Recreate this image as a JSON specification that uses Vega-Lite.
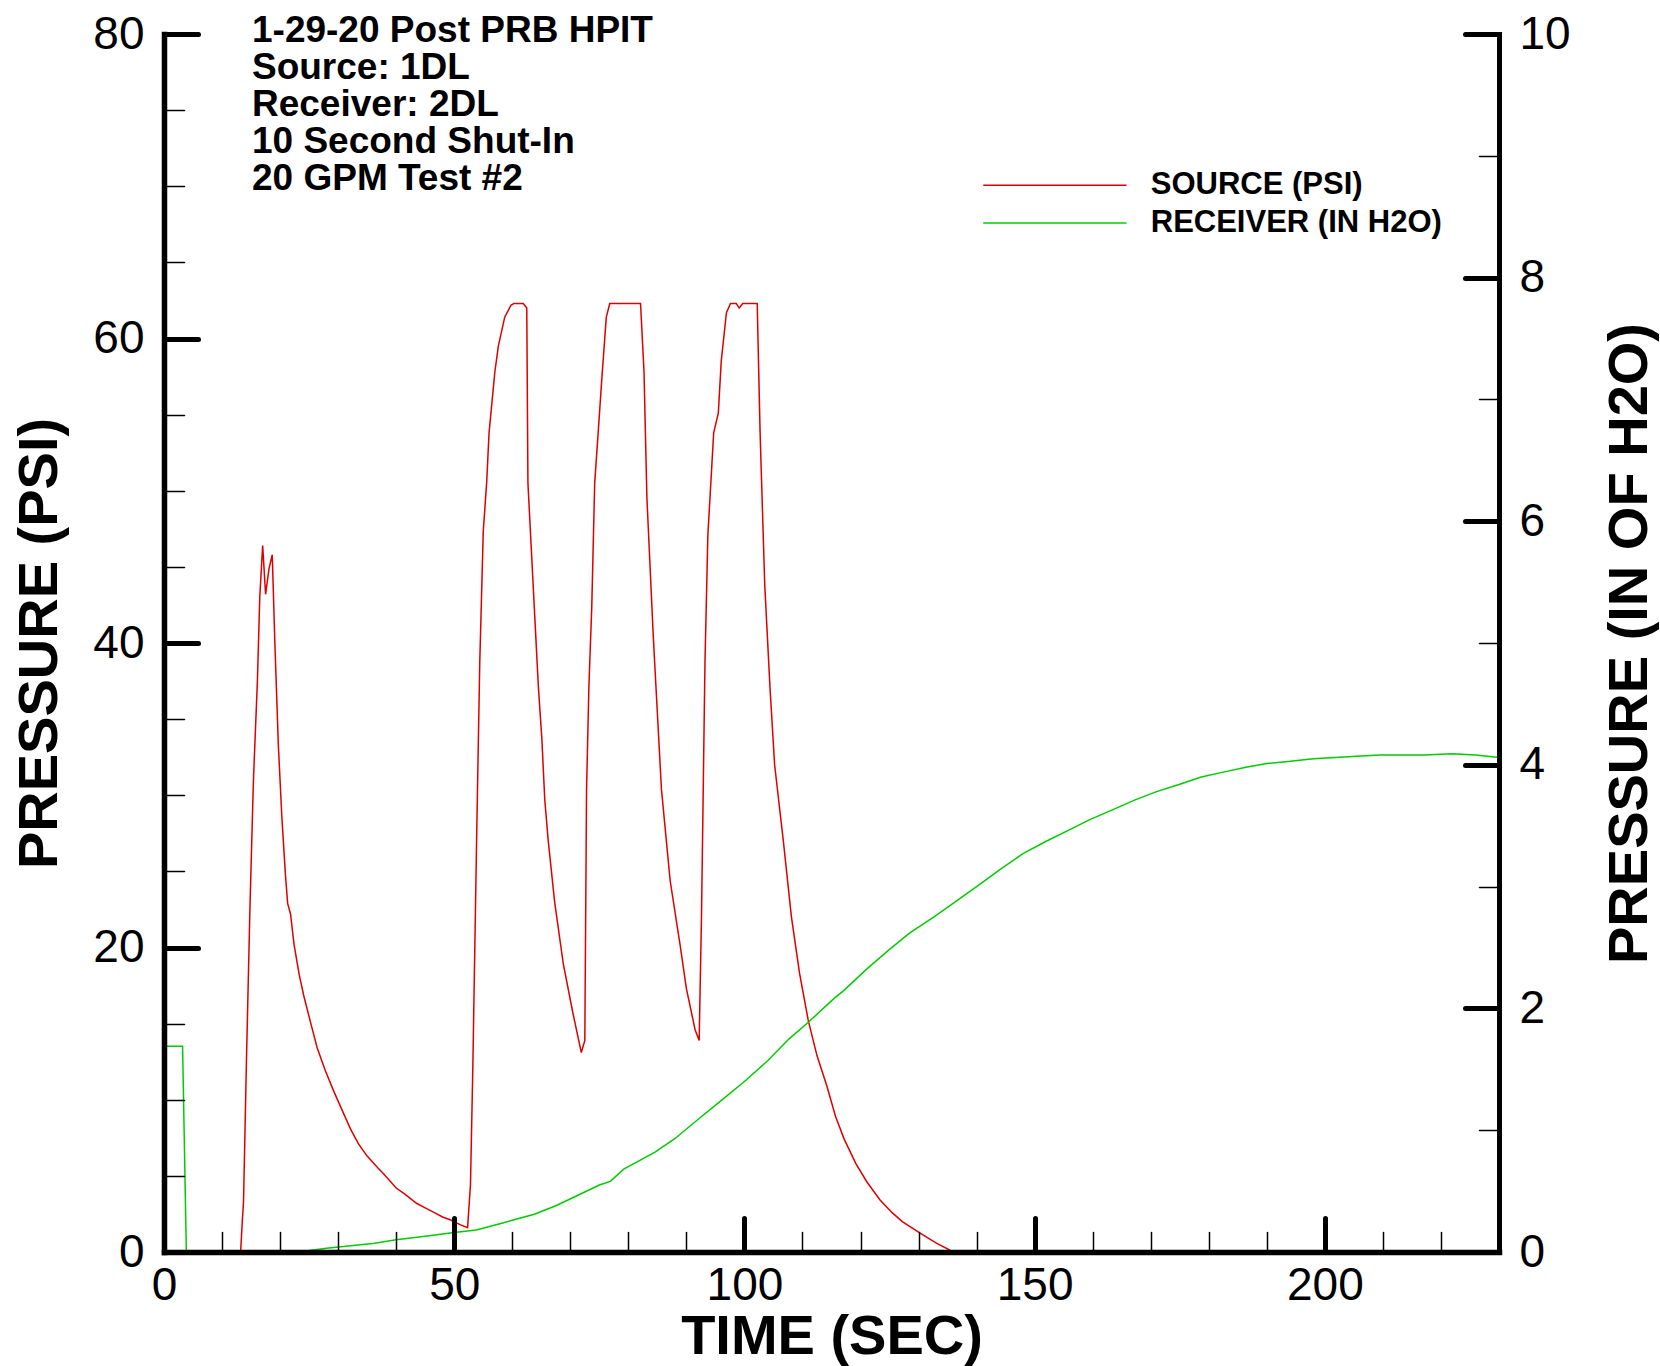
{
  "$schema": "https://vega.github.io/schema/vega-lite/v6.json",
  "width": 1335,
  "height": 1218,
  "autosize": {"type": "none"},
  "padding": {"left": 164, "top": 34, "right": 161, "bottom": 114},
  "config": {"view": {"stroke": null}, "font": "Liberation Sans"},
  "datasets": {
    "source": [
      {"t": 0, "psi": 0}, {"t": 13.2, "psi": 0}, {"t": 13.5, "psi": 2.1}, {"t": 13.7, "psi": 3.3},
      {"t": 14.2, "psi": 12.5}, {"t": 14.8, "psi": 22.5}, {"t": 15.4, "psi": 30.9}, {"t": 16.1, "psi": 37.6},
      {"t": 16.5, "psi": 43.0}, {"t": 17.0, "psi": 46.4}, {"t": 17.5, "psi": 43.2}, {"t": 18.1, "psi": 44.9},
      {"t": 18.65, "psi": 45.8}, {"t": 19.1, "psi": 40.0}, {"t": 19.7, "psi": 33.3}, {"t": 20.3, "psi": 28.6},
      {"t": 20.9, "psi": 24.9}, {"t": 21.3, "psi": 22.9}, {"t": 21.8, "psi": 22.2}, {"t": 22.4, "psi": 20.2},
      {"t": 23.3, "psi": 18.2}, {"t": 24.1, "psi": 16.8}, {"t": 25.3, "psi": 15.0}, {"t": 26.4, "psi": 13.4},
      {"t": 27.8, "psi": 11.9}, {"t": 29.2, "psi": 10.6}, {"t": 30.7, "psi": 9.3}, {"t": 32.1, "psi": 8.1},
      {"t": 33.5, "psi": 7.1}, {"t": 35.0, "psi": 6.3}, {"t": 36.9, "psi": 5.5}, {"t": 37.9, "psi": 5.1},
      {"t": 40.0, "psi": 4.2}, {"t": 41.5, "psi": 3.8}, {"t": 43.5, "psi": 3.2}, {"t": 45.0, "psi": 2.9},
      {"t": 46.5, "psi": 2.6}, {"t": 48.0, "psi": 2.3}, {"t": 49.4, "psi": 2.1}, {"t": 51.0, "psi": 1.8},
      {"t": 52.3, "psi": 1.6}, {"t": 52.8, "psi": 4.4}, {"t": 53.2, "psi": 12.0}, {"t": 53.9, "psi": 28.0},
      {"t": 54.4, "psi": 38.7}, {"t": 55.0, "psi": 47.3}, {"t": 55.6, "psi": 50.6}, {"t": 56.0, "psi": 53.8},
      {"t": 57.0, "psi": 57.8}, {"t": 57.6, "psi": 59.5}, {"t": 58.7, "psi": 61.4}, {"t": 59.8, "psi": 62.2},
      {"t": 60.3, "psi": 62.3}, {"t": 61.9, "psi": 62.3}, {"t": 62.5, "psi": 62.0}, {"t": 62.7, "psi": 50.5},
      {"t": 63.6, "psi": 43.8}, {"t": 64.5, "psi": 37.1}, {"t": 65.1, "psi": 33.7}, {"t": 65.6, "psi": 29.7},
      {"t": 66.2, "psi": 27.0}, {"t": 67.3, "psi": 23.0}, {"t": 68.8, "psi": 18.9}, {"t": 70.5, "psi": 15.6},
      {"t": 71.9, "psi": 13.1}, {"t": 72.5, "psi": 13.9}, {"t": 72.8, "psi": 30.4}, {"t": 73.2, "psi": 37.1},
      {"t": 73.7, "psi": 42.4}, {"t": 74.2, "psi": 50.5}, {"t": 74.8, "psi": 53.8}, {"t": 75.4, "psi": 57.2},
      {"t": 76.2, "psi": 61.4}, {"t": 76.8, "psi": 62.3}, {"t": 82.1, "psi": 62.3}, {"t": 82.7, "psi": 57.8},
      {"t": 83.2, "psi": 49.5}, {"t": 84.3, "psi": 40.4}, {"t": 85.7, "psi": 30.4}, {"t": 87.2, "psi": 24.4},
      {"t": 88.9, "psi": 20.2}, {"t": 90.0, "psi": 17.3}, {"t": 91.5, "psi": 14.6}, {"t": 92.2, "psi": 13.9},
      {"t": 92.6, "psi": 22.0}, {"t": 93.2, "psi": 38.7}, {"t": 93.7, "psi": 47.1}, {"t": 94.3, "psi": 51.1},
      {"t": 94.7, "psi": 53.8}, {"t": 95.5, "psi": 55.1}, {"t": 96.0, "psi": 58.5}, {"t": 96.9, "psi": 61.7},
      {"t": 97.6, "psi": 62.3}, {"t": 98.6, "psi": 62.3}, {"t": 99.1, "psi": 62.0}, {"t": 99.7, "psi": 62.3},
      {"t": 102.2, "psi": 62.3}, {"t": 102.7, "psi": 53.8}, {"t": 103.5, "psi": 43.8}, {"t": 104.4, "psi": 37.1},
      {"t": 105.2, "psi": 32.0}, {"t": 106.7, "psi": 27.0}, {"t": 108.1, "psi": 22.0}, {"t": 109.5, "psi": 18.3},
      {"t": 111.0, "psi": 15.2}, {"t": 112.5, "psi": 12.9}, {"t": 114.2, "psi": 10.9}, {"t": 115.7, "psi": 8.9},
      {"t": 117.2, "psi": 7.4}, {"t": 119.2, "psi": 5.8}, {"t": 121.1, "psi": 4.6}, {"t": 123.4, "psi": 3.4},
      {"t": 125.4, "psi": 2.6}, {"t": 127.2, "psi": 2.0}, {"t": 130.2, "psi": 1.25}, {"t": 133.0, "psi": 0.6},
      {"t": 135.5, "psi": 0.1}, {"t": 136.5, "psi": 0}, {"t": 230, "psi": 0}
    ],
    "receiver": [
      {"t": 0, "h2o": 1.69}, {"t": 3.2, "h2o": 1.69}, {"t": 3.85, "h2o": 0}, {"t": 22.5, "h2o": 0},
      {"t": 25, "h2o": 0.012}, {"t": 28, "h2o": 0.03}, {"t": 33, "h2o": 0.055}, {"t": 36, "h2o": 0.07},
      {"t": 40, "h2o": 0.10}, {"t": 45, "h2o": 0.13}, {"t": 50, "h2o": 0.16}, {"t": 53.8, "h2o": 0.18},
      {"t": 57.7, "h2o": 0.23}, {"t": 60, "h2o": 0.26}, {"t": 63.8, "h2o": 0.31}, {"t": 67.5, "h2o": 0.38},
      {"t": 71.5, "h2o": 0.47}, {"t": 75, "h2o": 0.55}, {"t": 76.9, "h2o": 0.58}, {"t": 79.2, "h2o": 0.68},
      {"t": 84.6, "h2o": 0.82}, {"t": 88, "h2o": 0.93}, {"t": 92.3, "h2o": 1.10}, {"t": 95.4, "h2o": 1.22},
      {"t": 100, "h2o": 1.40}, {"t": 104, "h2o": 1.57}, {"t": 107.7, "h2o": 1.75}, {"t": 111.1, "h2o": 1.89},
      {"t": 115.4, "h2o": 2.08}, {"t": 117.2, "h2o": 2.15}, {"t": 121, "h2o": 2.32}, {"t": 124.9, "h2o": 2.48},
      {"t": 128.5, "h2o": 2.62}, {"t": 132.6, "h2o": 2.75}, {"t": 136.5, "h2o": 2.88}, {"t": 140.3, "h2o": 3.01},
      {"t": 144, "h2o": 3.14}, {"t": 148, "h2o": 3.27}, {"t": 151.9, "h2o": 3.37}, {"t": 155.7, "h2o": 3.46},
      {"t": 159.5, "h2o": 3.55}, {"t": 163.4, "h2o": 3.63}, {"t": 167.2, "h2o": 3.71}, {"t": 171, "h2o": 3.78},
      {"t": 175, "h2o": 3.84}, {"t": 178.7, "h2o": 3.90}, {"t": 182.5, "h2o": 3.94}, {"t": 186.4, "h2o": 3.98},
      {"t": 190, "h2o": 4.01}, {"t": 194.1, "h2o": 4.03}, {"t": 198, "h2o": 4.05}, {"t": 201.8, "h2o": 4.06},
      {"t": 205.5, "h2o": 4.07}, {"t": 209.5, "h2o": 4.08}, {"t": 213, "h2o": 4.08}, {"t": 217.2, "h2o": 4.08},
      {"t": 221.8, "h2o": 4.09}, {"t": 226, "h2o": 4.08}, {"t": 230, "h2o": 4.06}
    ]
  },
  "layer": [
    {
      "layer": [
        {
          "data": {"name": "source"},
          "mark": {"type": "line", "color": "#dd0000", "strokeWidth": 1.5, "clip": false},
          "encoding": {
            "x": {
              "field": "t", "type": "quantitative",
              "scale": {"domain": [0, 230], "nice": false, "zero": true},
              "axis": {
                "title": "TIME (SEC)",
                "zindex": 1,
                "values": [0, 10, 20, 30, 40, 50, 60, 70, 80, 90, 100, 110, 120, 130, 140, 150, 160, 170, 180, 190, 200, 210, 220],
                "labelExpr": "datum.value % 50 === 0 ? datum.label : ''",
                "tickSize": {"condition": {"test": "datum.value % 50 === 0", "value": -34}, "value": -20},
                "tickWidth": {"condition": {"test": "datum.value % 50 === 0", "value": 5}, "value": 1.5},
                "tickColor": "black", "tickCap": "round",
                "domainColor": "black", "domainWidth": 5.5, "domainCap": "square",
                "labelFont": "Liberation Sans", "labelFontSize": 46, "labelColor": "black",
                "labelPadding": 45, "labelFlush": false, "labelOverlap": false, "labelBound": false,
                "titleFont": "Liberation Sans", "titleFontSize": 56, "titleFontWeight": "bold",
                "titleColor": "black", "titlePadding": -13, "grid": false
              }
            },
            "y": {
              "field": "psi", "type": "quantitative",
              "scale": {"domain": [0, 80], "nice": false},
              "axis": {
                "orient": "left",
                "title": "PRESSURE (PSI)",
                "zindex": 1,
                "values": [0, 5, 10, 15, 20, 25, 30, 35, 40, 45, 50, 55, 60, 65, 70, 75, 80],
                "labelExpr": "datum.value % 20 === 0 ? datum.label : ''",
                "tickSize": {"condition": {"test": "datum.value % 20 === 0", "value": -34}, "value": -20},
                "tickWidth": {"condition": {"test": "datum.value % 20 === 0", "value": 5}, "value": 1.5},
                "tickColor": "black", "tickCap": "round",
                "domainColor": "black", "domainWidth": 5.5, "domainCap": "square",
                "labelFont": "Liberation Sans", "labelFontSize": 46, "labelColor": "black",
                "labelPadding": 54, "labelFlush": false, "labelOverlap": false, "labelBound": false,
                "titleFont": "Liberation Sans", "titleFontSize": 56, "titleFontWeight": "bold",
                "titleColor": "black", "titleAngle": 270, "titleBaseline": "bottom", "titlePadding": 24.5, "grid": false
              }
            }
          }
        },
        {
          "data": {"values": [{"label": "1-29-20 Post PRB HPIT\nSource: 1DL\nReceiver: 2DL\n10 Second Shut-In\n20 GPM Test #2"}]},
          "mark": {"type": "text", "align": "left", "baseline": "alphabetic", "font": "Liberation Sans", "fontSize": 37, "fontWeight": "bold", "lineHeight": 37, "lineBreak": "\n", "color": "black"},
          "encoding": {
            "x": {"datum": 15.16, "type": "quantitative"},
            "y": {"datum": 79.45, "type": "quantitative"},
            "text": {"field": "label"}
          }
        },
        {
          "data": {"values": [{"label": "SOURCE (PSI)"}]},
          "mark": {"type": "rule", "color": "#dd0000", "strokeWidth": 1.5},
          "encoding": {
            "x": {"datum": 141.15, "type": "quantitative"},
            "x2": {"datum": 165.83},
            "y": {"datum": 70.07, "type": "quantitative"}
          }
        },
        {
          "data": {"values": [{"label": "RECEIVER (IN H2O)"}]},
          "mark": {"type": "rule", "color": "#00cc00", "strokeWidth": 1.5},
          "encoding": {
            "x": {"datum": 141.15, "type": "quantitative"},
            "x2": {"datum": 165.83},
            "y": {"datum": 67.58, "type": "quantitative"}
          }
        },
        {
          "data": {"values": [{"label": "SOURCE (PSI)"}]},
          "mark": {"type": "text", "align": "left", "baseline": "middle", "font": "Liberation Sans", "fontSize": 31, "fontWeight": "bold", "color": "black"},
          "encoding": {
            "x": {"datum": 170.0, "type": "quantitative"},
            "y": {"datum": 70.07, "type": "quantitative"},
            "text": {"field": "label"}
          }
        },
        {
          "data": {"values": [{"label": "RECEIVER (IN H2O)"}]},
          "mark": {"type": "text", "align": "left", "baseline": "middle", "font": "Liberation Sans", "fontSize": 31, "fontWeight": "bold", "color": "black"},
          "encoding": {
            "x": {"datum": 170.0, "type": "quantitative"},
            "y": {"datum": 67.58, "type": "quantitative"},
            "text": {"field": "label"}
          }
        }
      ]
    },
    {
      "data": {"name": "receiver"},
      "mark": {"type": "line", "color": "#00cc00", "strokeWidth": 1.5, "clip": false},
      "encoding": {
        "x": {"field": "t", "type": "quantitative"},
        "y": {
          "field": "h2o", "type": "quantitative",
          "scale": {"domain": [0, 10], "nice": false},
          "axis": {
            "orient": "right",
            "title": "PRESSURE (IN OF H2O)",
            "zindex": 1,
            "format": "d",
            "values": [0, 0.5, 1, 1.5, 2, 2.5, 3, 3.5, 4, 4.5, 5, 5.5, 6, 6.5, 7, 7.5, 8, 8.5, 9, 9.5, 10],
            "labelExpr": "datum.value % 2 === 0 ? datum.label : ''",
            "tickSize": {"condition": {"test": "datum.value % 2 === 0", "value": -34}, "value": -20},
            "tickWidth": {"condition": {"test": "datum.value % 2 === 0", "value": 5}, "value": 1.5},
            "tickColor": "black", "tickCap": "round",
            "domainColor": "black", "domainWidth": 5, "domainCap": "square",
            "labelFont": "Liberation Sans", "labelFontSize": 46, "labelColor": "black",
            "labelPadding": 54, "labelFlush": false, "labelOverlap": false, "labelBound": false,
            "titleFont": "Liberation Sans", "titleFontSize": 56, "titleFontWeight": "bold",
            "titleColor": "black", "titleAngle": 270, "titleBaseline": "top", "titlePadding": 32, "grid": false
          }
        }
      }
    }
  ],
  "resolve": {"scale": {"y": "independent"}}
}
